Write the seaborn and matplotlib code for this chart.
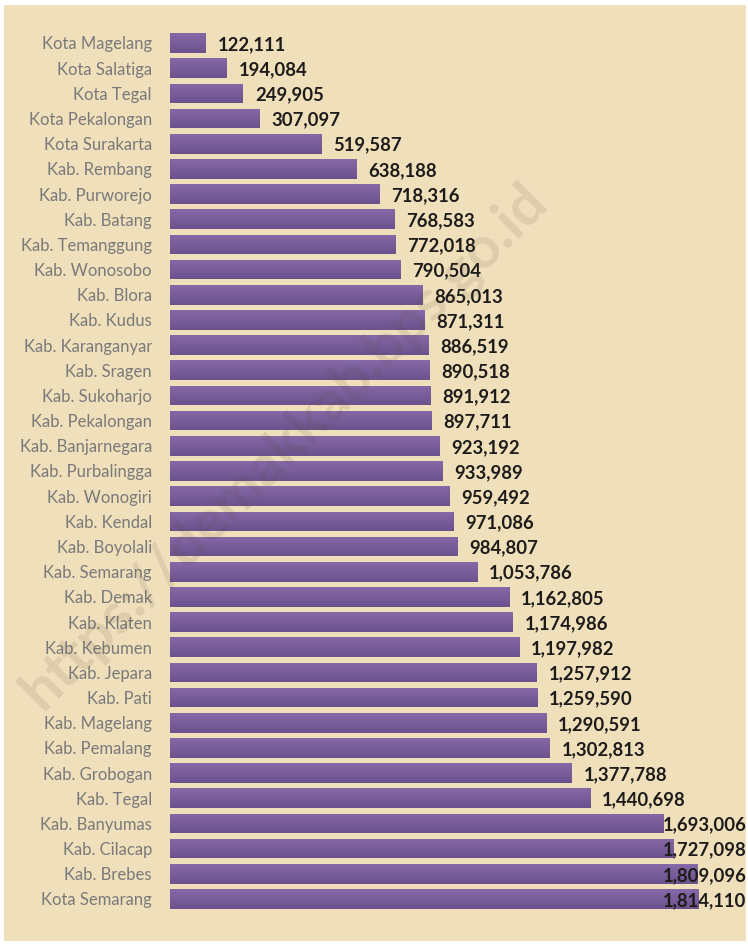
import matplotlib
matplotlib.use("Agg")
import matplotlib.pyplot as plt
import seaborn as sns
import numpy as np
import pandas as pd

regions = ["Kota Magelang", "Kota Salatiga", "Kota Tegal", "Kota Pekalongan", "Kota Surakarta",
           "Kab. Rembang", "Kab. Purworejo", "Kab. Batang", "Kab. Temanggung", "Kab. Wonosobo",
           "Kab. Blora", "Kab. Kudus", "Kab. Karanganyar", "Kab. Sragen", "Kab. Sukoharjo",
           "Kab. Pekalongan", "Kab. Banjarnegara", "Kab. Purbalingga", "Kab. Wonogiri", "Kab. Kendal",
           "Kab. Boyolali", "Kab. Semarang", "Kab. Demak", "Kab. Klaten", "Kab. Kebumen",
           "Kab. Jepara", "Kab. Pati", "Kab. Magelang", "Kab. Pemalang", "Kab. Grobogan",
           "Kab. Tegal", "Kab. Banyumas", "Kab. Cilacap", "Kab. Brebes", "Kota Semarang"]
population = [122111, 194084, 249905, 307097, 519587,
              638188, 718316, 768583, 772018, 790504,
              865013, 871311, 886519, 890518, 891912,
              897711, 923192, 933989, 959492, 971086,
              984807, 1053786, 1162805, 1174986, 1197982,
              1257912, 1259590, 1290591, 1302813, 1377788,
              1440698, 1693006, 1727098, 1809096, 1814110]
watermark = "https://demakkab.bps.go.id"

df = pd.DataFrame({"region": regions, "population": population})

sns.set_theme(style="white")
plt.rcParams["font.family"] = ["Lato", "DejaVu Sans"]

W, H = 748, 944
fig = plt.figure(figsize=(W / 100, H / 100), dpi=100)
fig.patch.set_facecolor("white")
bg = plt.Rectangle((4 / W, 3 / H), (W - 6) / W, (H - 8) / H, transform=fig.transFigure,
                   facecolor="#efdfbb", edgecolor="none", zorder=-10)
fig.patches.append(bg)

n = len(regions)
top_px, step = 43, (899 - 43) / (n - 1)
ax_top = top_px - step / 2
ax_bot = 899 + step / 2
ax = fig.add_axes([170 / W, 1 - ax_bot / H, (745 - 170) / W, (ax_bot - ax_top) / H])
ax.set_facecolor("none")

sns.barplot(data=df, x="population", y="region", orient="h", color="#76609a",
            width=0.78, ax=ax, saturation=1, linewidth=0, edgecolor="none")

xmax = 1972000
ax.set_xlim(0, xmax)
ax.set_ylim(n - 0.5, -0.5)

# gradient fill on bars
grad = np.linspace(0, 1, 64).reshape(-1, 1)
cmap = matplotlib.colors.LinearSegmentedColormap.from_list("g", ["#8669a8", "#6b528c"])
for p in ax.patches:
    x0, y0 = p.get_x(), p.get_y()
    w, h = p.get_width(), p.get_height()
    p.set_facecolor("none")
    p.set_edgecolor("none")
    im = ax.imshow(grad, extent=(x0, x0 + w, y0 + h, y0), cmap=cmap, aspect="auto",
                   interpolation="bilinear", zorder=2)
    im.set_clip_path(p)
ax.set_xlim(0, xmax)
ax.set_ylim(n - 0.5, -0.5)

gap = 41000
clamp = 1690000
for i, v in enumerate(population):
    ax.text(min(v + gap, clamp), i + 0.06, f"{v:,}", va="center", ha="left",
            fontsize=13.3, fontweight="bold", color="#1e1c1a", zorder=5)

ax.set_xlabel("")
ax.set_ylabel("")
ax.set_xticks([])
ax.tick_params(axis="y", length=0, pad=13, labelsize=12, labelcolor="#7a7a7a")
for s in ax.spines.values():
    s.set_visible(False)

fig.text(0.38, 0.527, watermark, rotation=45, ha="center", va="center",
         fontsize=42, fontweight="bold", color="#5a4a3a", alpha=0.12, zorder=20)

fig.savefig("out.png", dpi=100, facecolor=fig.get_facecolor())
